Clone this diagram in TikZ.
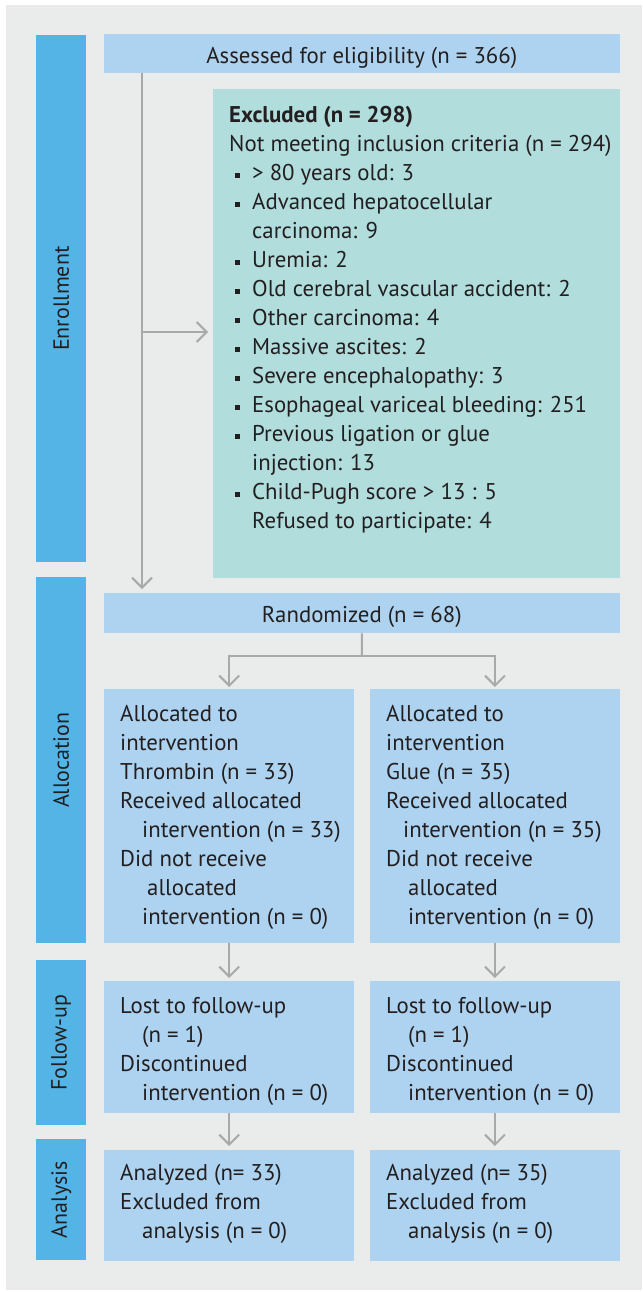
\documentclass[tikz,border=0pt]{standalone}
\usepackage{fontspec}
\setmainfont{PT Sans}
\usetikzlibrary{arrows.meta}
\definecolor{bggray}{HTML}{EAEBEB}
\definecolor{barblue}{HTML}{55B4E6}
\definecolor{boxblue}{HTML}{ADD3F0}
\definecolor{exteal}{HTML}{B1DDDD}
\definecolor{arrgray}{HTML}{A9A9A9}
\definecolor{inkc}{HTML}{231F20}
\newcommand\mybul{\makebox[23pt][l]{\hspace*{6pt}\rule[2.5pt]{4.7pt}{4.7pt}}}
\newcommand\myind[1]{\hspace*{#1pt}}
\newcommand\fl{\rule{0pt}{20pt}}
\begin{document}
\begin{tikzpicture}[x=1pt,y=-1pt,
  bar/.style={fill=barblue, draw=none, anchor=north west, inner sep=0pt, minimum width=50pt},
  box/.style={fill=boxblue, draw=none, anchor=north west, inner sep=0pt},
  exbox/.style={fill=exteal, draw=none, anchor=north west, inner sep=0pt},
  tx/.style={text=inkc, inner sep=0pt, font=\fontsize{22.8}{29}\selectfont},
  body/.style={tx, align=left, anchor=north west},
  side/.style={text=inkc, inner sep=0pt, font=\fontsize{22}{26}\selectfont, rotate=90},
  conn/.style={draw=arrgray, line width=2pt},
  arr/.style={conn, -{Straight Barb[length=10pt,width=20pt]}},
]
\useasboundingbox[fill=white] (0,0) rectangle (642,1292);
\fill[bggray] (6,5) rectangle (642,1290);

% side bars
\node[bar, minimum height=527pt] (barE) at (36,35) {};
\node[bar, minimum height=366pt] (barA) at (36,577) {};
\node[bar, minimum height=165pt] (barF) at (36,960) {};
\node[bar, minimum height=121pt] (barN) at (36,1139) {};
\node[side] (labE) at (barE.center) {Enrollment};
\node[side] (labA) at (barA.center) {Allocation};
\node[side] (labF) at (barF.center) {Follow-up};
\node[side] (labN) at (barN.center) {Analysis};

% boxes
\node[box, minimum width=515.5pt, minimum height=39pt] (assess) at (104,34) {};
\node[exbox, minimum width=406.5pt, minimum height=489pt] (excl) at (213,89) {};
\node[box, minimum width=515.5pt, minimum height=40pt] (rand) at (104,593) {};
\node[box, minimum width=250pt, minimum height=254pt] (allocL) at (104,689) {};
\node[box, minimum width=249.5pt, minimum height=254pt] (allocR) at (370,689) {};
\node[box, minimum width=250pt, minimum height=132pt] (follL) at (104,981) {};
\node[box, minimum width=249.5pt, minimum height=132pt] (follR) at (370,981) {};
\node[box, minimum width=250pt, minimum height=111pt] (anaL) at (104,1150) {};
\node[box, minimum width=249.5pt, minimum height=111pt] (anaR) at (370,1150) {};

% texts
\node[tx, anchor=base] (assessT) at (361.75,64) {Assessed for eligibility (n = 366)};
\node[tx, anchor=base] (randT) at (361.75,622) {Randomized (n = 68)};
\node[body] (exclT) at (229,102) {\fl\textbf{Excluded (n = 298)}\\
Not meeting inclusion criteria (n = 294)\\
\mybul > 80 years old: 3\\
\mybul Advanced hepatocellular\\
\myind{23}carcinoma: 9\\
\mybul Uremia: 2\\
\mybul Old cerebral vascular accident: 2\\
\mybul Other carcinoma: 4\\
\mybul Massive ascites: 2\\
\mybul Severe encephalopathy: 3\\
\mybul Esophageal variceal bleeding: 251\\
\mybul Previous ligation or glue\\
\myind{23}injection: 13\\
\mybul Child-Pugh score > 13 : 5\\
\myind{23}Refused to participate: 4};
\node[body] (allocLT) at (120,701) {\fl Allocated to\\
intervention\\
Thrombin (n = 33)\\
Received allocated\\
\myind{22}intervention (n = 33)\\
Did not receive\\
\myind{27}allocated\\
\myind{22}intervention (n = 0)};
\node[body] (allocRT) at (386,701) {\fl Allocated to\\
intervention\\
Glue (n = 35)\\
Received allocated\\
\myind{17}intervention (n = 35)\\
Did not receive\\
\myind{22}allocated\\
\myind{22}intervention (n = 0)};
\node[body] (follLT) at (120,993) {\fl Lost to follow-up\\
\myind{22}(n = 1)\\
Discontinued\\
\myind{22}intervention (n = 0)};
\node[body] (follRT) at (386,993) {\fl Lost to follow-up\\
\myind{22}(n = 1)\\
Discontinued\\
\myind{22}intervention (n = 0)};
\node[body] (anaLT) at (120,1160) {\fl Analyzed (n= 33)\\
Excluded from\\
\myind{22}analysis (n = 0)};
\node[body] (anaRT) at (386,1160) {\fl Analyzed (n= 35)\\
Excluded from\\
\myind{22}analysis (n = 0)};

% connectors
\coordinate (tee) at (142,332);
\draw[arr, shorten >=4pt] (assess.south -| tee) -- (rand.north -| tee);
\draw[arr, shorten >=5pt] (tee) -- (excl.west |- tee);
\coordinate (rb) at (361.75,656);
\draw[conn] (rand.south) -- (rb);
\draw[arr, shorten >=2pt] (rb) -| (allocL.north);
\draw[arr, shorten >=2pt] (rb) -| (allocR.north);
\draw[arr, shorten >=3pt] (allocL.south) -- (follL.north);
\draw[arr, shorten >=3pt] (allocR.south) -- (follR.north);
\draw[arr, shorten >=4pt] (follL.south) -- (anaL.north);
\draw[arr, shorten >=4pt] (follR.south) -- (anaR.north);
\end{tikzpicture}
\end{document}
